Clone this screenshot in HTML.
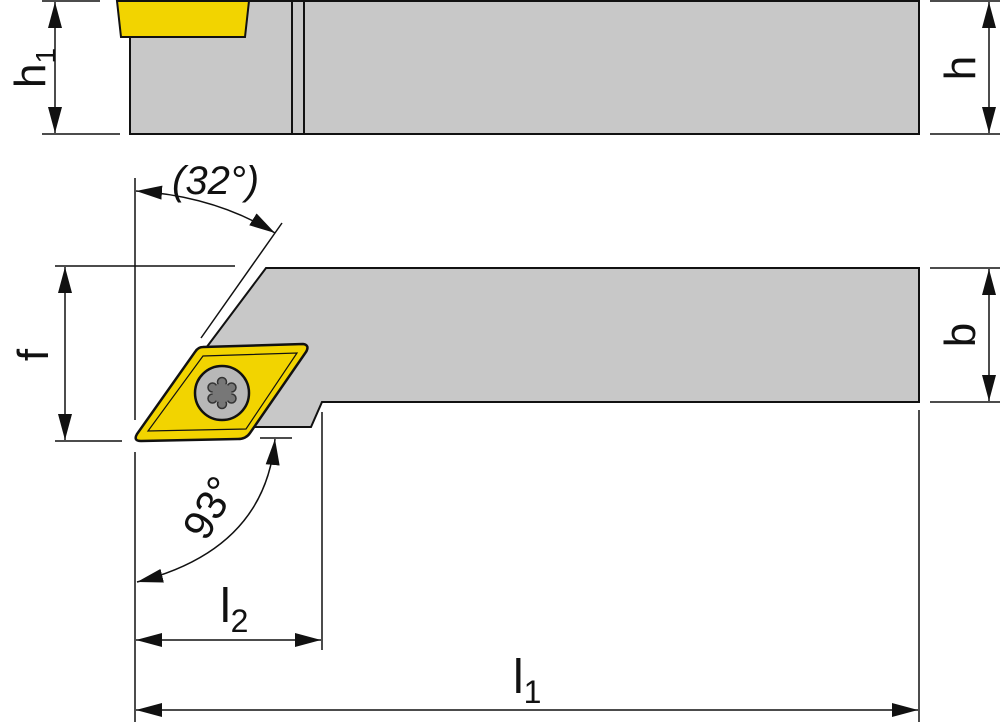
<!DOCTYPE html>
<html><head><meta charset="utf-8"><style>
html,body{margin:0;padding:0;background:#fff;}
svg{display:block;}
text{font-family:"Liberation Sans",sans-serif;fill:#111;}
</style></head><body>
<svg width="1000" height="727" viewBox="0 0 1000 727" xmlns="http://www.w3.org/2000/svg">
<defs>
<marker id="b" viewBox="0 0 26 14" refX="26" refY="7" markerWidth="26" markerHeight="14" markerUnits="userSpaceOnUse" orient="auto-start-reverse">
<path d="M0,0 L26,7 L0,14 z" fill="#111"/></marker>
</defs>
<g stroke="#111" fill="none">
<rect x="130" y="1" width="789" height="133" fill="#c8c8c8" stroke-width="2"/>
<polygon points="117,1 249,1 245,37 121,37" fill="#f2d400" stroke-width="2"/>
<line x1="292" y1="1" x2="292" y2="134" stroke-width="2"/>
<line x1="304" y1="1" x2="304" y2="134" stroke-width="2"/>
<line x1="42" y1="1" x2="100" y2="1" stroke-width="1.5"/>
<line x1="42" y1="134" x2="120" y2="134" stroke-width="1.5"/>
<line x1="55" y1="2" x2="55" y2="133" stroke-width="1.5" marker-start="url(#b)" marker-end="url(#b)"/>
<line x1="930" y1="1" x2="1000" y2="1" stroke-width="1.5"/>
<line x1="930" y1="134" x2="1000" y2="134" stroke-width="1.5"/>
<line x1="989" y1="2" x2="989" y2="133" stroke-width="1.5" marker-start="url(#b)" marker-end="url(#b)"/>

<polygon points="266,268 919,268 919,402 322,402 311,427 240,427 203,352" fill="#c8c8c8" stroke-width="2"/>
<line x1="55" y1="266" x2="235" y2="266" stroke-width="1.5"/>
<line x1="55" y1="441" x2="122" y2="441" stroke-width="1.5"/>
<line x1="65" y1="267" x2="65" y2="440" stroke-width="1.5" marker-start="url(#b)" marker-end="url(#b)"/>
<line x1="930" y1="268" x2="1000" y2="268" stroke-width="1.5"/>
<line x1="930" y1="402" x2="1000" y2="402" stroke-width="1.5"/>
<line x1="989" y1="269" x2="989" y2="401" stroke-width="1.5" marker-start="url(#b)" marker-end="url(#b)"/>
<line x1="135" y1="178" x2="135" y2="420" stroke-width="1.5"/>
<line x1="135" y1="452" x2="135" y2="722" stroke-width="1.5"/>
<line x1="282" y1="223" x2="201" y2="338" stroke-width="1.5"/>
<path d="M136,191 Q215,196 275,233" stroke-width="1.5" marker-start="url(#b)" marker-end="url(#b)"/>
<line x1="260" y1="438" x2="292" y2="438" stroke-width="1.5"/>
<path d="M275,439 Q265,550 137,582" stroke-width="1.5" marker-start="url(#b)" marker-end="url(#b)"/>
<line x1="322" y1="412" x2="322" y2="650" stroke-width="1.5"/>
<line x1="136" y1="640" x2="321" y2="640" stroke-width="1.5" marker-start="url(#b)" marker-end="url(#b)"/>
<line x1="919" y1="410" x2="919" y2="722" stroke-width="1.5"/>
<line x1="136" y1="710" x2="918" y2="710" stroke-width="1.5" marker-start="url(#b)" marker-end="url(#b)"/>

<path d="M203,347 L303,344 Q310,345 306,352 L250,433 Q246,439 238,439 L141,441 Q133,441 137,434 L195,352 Q198,347 203,347 z" fill="#f2d400" stroke-width="2.5"/>
<polygon points="203,356 297,353 246,429 148,431" stroke-width="1.2"/>
<circle cx="222" cy="393" r="27" fill="#b8b8b8" stroke-width="2.5"/>
<g fill="#777" stroke="#333" stroke-width="1.5">
<circle cx="222" cy="382" r="4.5"/><circle cx="231.5" cy="387.5" r="4.5"/><circle cx="231.5" cy="398.5" r="4.5"/>
<circle cx="222" cy="404" r="4.5"/><circle cx="212.5" cy="398.5" r="4.5"/><circle cx="212.5" cy="387.5" r="4.5"/>
</g>
<circle cx="222" cy="393" r="9.5" fill="#777" stroke="none"/>
</g>
<text x="0" y="0" font-size="44" transform="translate(45,68) rotate(-90)" text-anchor="middle">h<tspan font-size="28" dy="10">1</tspan></text>
<text x="0" y="0" font-size="44" transform="translate(975,68) rotate(-90)" text-anchor="middle">h</text>
<text x="0" y="0" font-size="44" transform="translate(48,355) rotate(-90)" text-anchor="middle">f</text>
<text x="0" y="0" font-size="44" transform="translate(975,335) rotate(-90)" text-anchor="middle">b</text>
<text x="172" y="194" font-size="40" font-style="italic">(32°)</text>
<text x="0" y="0" font-size="42" transform="translate(222,515) rotate(-60)" text-anchor="middle">93°</text>
<text x="220" y="622" font-size="48">l<tspan font-size="32" dy="10">2</tspan></text>
<text x="513" y="693" font-size="48">l<tspan font-size="32" dy="10">1</tspan></text>
</svg>
</body></html>
